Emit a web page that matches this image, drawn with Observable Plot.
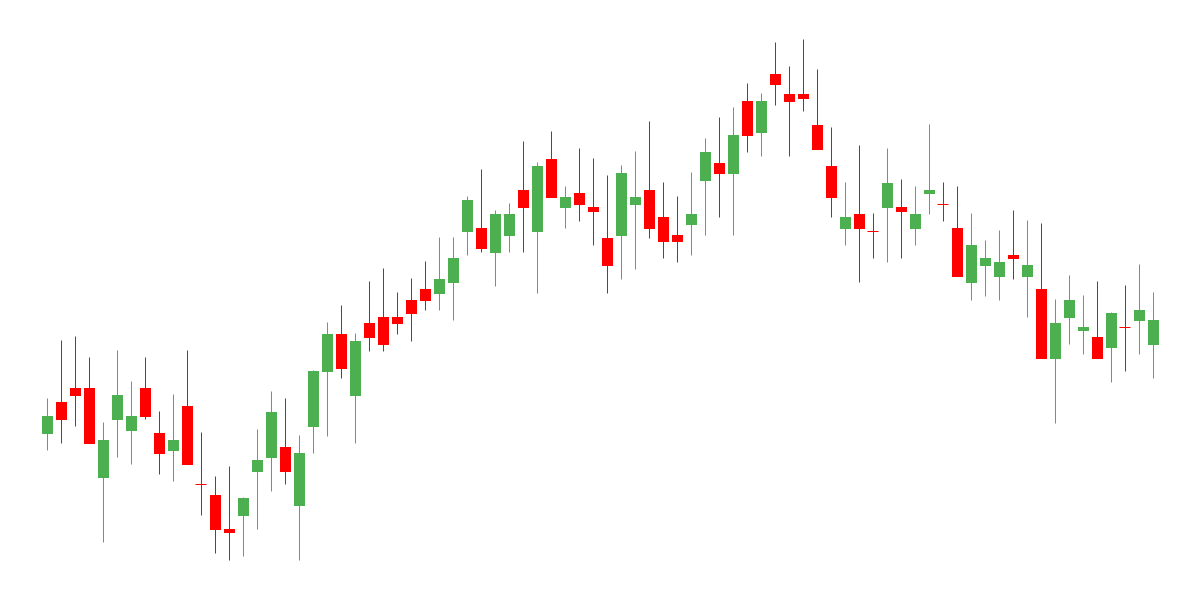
<!DOCTYPE html>
<html>
<head>
<meta charset="utf-8">
<script src="https://cdn.jsdelivr.net/npm/d3@7"></script>
<script src="https://cdn.jsdelivr.net/npm/@observablehq/plot@0.6"></script>
<style>
  html, body { margin: 0; padding: 0; background: #ffffff; }
  #chart { width: 1200px; height: 600px; }
</style>
</head>
<body>
<div id="chart"></div>
<script>
const open = [41.5, 49.5, 53, 53, 30.5, 45, 42.25, 53, 41.75, 37.25,
  48.5, 29, 26.25, 17.75, 21, 32, 35.5, 38.25, 23.5, 43.25,
  57, 66.5, 51, 69.25, 70.75, 70.75, 75, 77.75, 76.5, 79.25,
  92, 93, 86.75, 91, 102.5, 92, 110.25, 98, 101.75, 98.25,
  90.5, 91, 98.75, 102.5, 95.75, 91.25, 93.75, 104.75, 109.25, 106.5,
  124.75, 116.75, 131.5, 126.5, 126.5, 118.75, 108.5, 92.75, 96.5, 92.25,
  98, 98.25, 92.75, 101.5, 99, 93, 79.25, 83.5, 80.75, 86.25,
  80.75, 77.75, 60.25, 70.5, 67.25, 65.75, 63, 68.25, 69.75, 63.75];
const close = [46, 45, 51, 39, 40, 51.25, 46, 45.75, 36.5, 40,
  33.75, 29, 17.5, 16.75, 25.5, 35, 47, 32, 36.75, 57.25,
  66.5, 57.75, 64.75, 65.5, 63.75, 69, 71.5, 74.75, 80.25, 85.5,
  100, 87.75, 96.5, 96.5, 98, 108.5, 100.5, 100.75, 98.75, 97,
  83.5, 106.75, 100.75, 92.75, 89.5, 89.5, 96.5, 112, 106.5, 116.25,
  116, 124.75, 128.75, 124.5, 125.25, 112.5, 100.5, 95.75, 92.75, 92.25,
  104.25, 97, 96.5, 102.5, 99, 80.75, 88.75, 85.5, 84.5, 85.25,
  83.75, 60.25, 69.25, 75, 68.25, 60.25, 71.75, 68.25, 72.5, 70];
const high = [50.25, 64.75, 65.75, 60.5, 44.25, 62.25, 54.5, 60.5, 47, 51.25,
  62.25, 41.75, 30.75, 33.25, 25.5, 42.5, 52, 50.25, 41, 57.25,
  69.25, 73.5, 66.5, 79.5, 82.75, 76.75, 80.25, 84.5, 90.5, 90.5,
  100.75, 107.5, 97.25, 99, 114.5, 109.25, 117, 103.25, 112.75, 110.25,
  106, 108.5, 112, 119.5, 104.25, 100.75, 106.75, 115.25, 120.5, 123,
  129, 126.5, 139.25, 133.25, 140, 132.5, 118, 104.25, 113.5, 96.5,
  112.75, 105, 103.25, 118.75, 104.25, 103.25, 96.5, 89.75, 92.25, 97.25,
  94.75, 94, 75, 81, 76, 79.5, 71.75, 78.5, 83.75, 76.75];
const low = [37.25, 39, 43.25, 39, 14.25, 35.5, 33.75, 45, 31.25, 29.5,
  33.75, 21, 11.5, 9.75, 10.75, 17.5, 27, 28.75, 9.75, 36.5,
  40.75, 55.25, 39, 62, 62, 66.25, 64.5, 72.25, 72.25, 69.75,
  86, 86.75, 78.25, 86.75, 86.75, 76.5, 100.5, 92.75, 94.5, 88.5,
  76.5, 80, 82.5, 90.25, 85.25, 84.25, 86, 91, 95.5, 91,
  111.75, 110.75, 123.5, 110.75, 122, 112.5, 95.5, 88.5, 79.25, 85.25,
  84.25, 85.25, 88.5, 96.25, 94.5, 80.75, 74.75, 75.75, 74.75, 80,
  70.5, 60.25, 44, 63.75, 61.25, 60.25, 54.25, 57, 61.25, 55.25];

const UP = "#4caf50";
const DOWN = "#ff0000";

const candles = open.map((o, i) => ({
  i, open: o, close: close[i], high: high[i], low: low[i],
  color: close[i] > o ? UP : DOWN
}));
const bodies = candles.filter(d => d.open !== d.close);
const dojis = candles.filter(d => d.open === d.close);
const hw = 0.393;

const chart = Plot.plot({
  width: 1200,
  height: 600,
  margin: 0,
  style: { background: "#ffffff" },
  x: { domain: [0, candles.length - 1], range: [47.5, 1153.5], axis: null },
  y: { domain: [0, 150], range: [600, 0], axis: null },
  marks: [
    Plot.ruleX(candles, { x: "i", y1: "low", y2: "high", stroke: "color", strokeWidth: 1, dx: -0.5, dy: -0.5 }),
    Plot.rect(bodies, {
      x1: d => d.i - hw, x2: d => d.i + hw,
      y1: "open", y2: "close", fill: "color"
    }),
    Plot.ruleY(dojis, {
      x1: d => d.i - hw, x2: d => d.i + hw,
      y: "close", stroke: "color", strokeWidth: 1, dx: -0.5
    })
  ]
});
document.getElementById("chart").appendChild(chart);
</script>
</body>
</html>
